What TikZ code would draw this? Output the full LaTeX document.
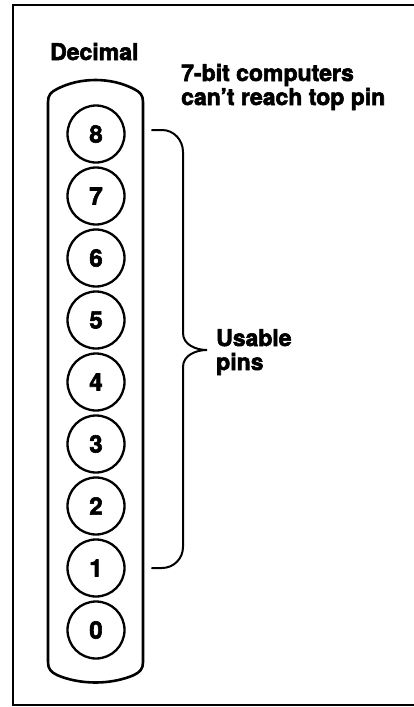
\documentclass[tikz,border=0pt]{standalone}
\usepackage{fontspec}
\setmainfont{TeX Gyre Heros}[BoldFeatures={FakeBold=2.5}]
\begin{document}
\begin{tikzpicture}[x=1pt,y=-1pt,
  lbl/.style={font=\fontsize{23}{24}\selectfont\bfseries, inner sep=0pt, align=left},
  pin/.style={circle, draw, line width=2.3pt, minimum size=57pt, inner sep=0pt,
              font=\fontsize{24}{25}\selectfont\bfseries},
  column/.style={draw, line width=2.6pt, line join=round},
  bracket/.style={draw, line width=2pt, line cap=round},
  frame/.style={draw, line width=2.4pt}]
\useasboundingbox (0,0) rectangle (414,707);
% frame (right side runs off the picture)
\draw[frame] (416,5) -- (13,5) -- (13,705) -- (416,705);
% column
\draw[column] (48,662) -- (48,102)
  .. controls (48,95) and (51,92) .. (57,89)
  .. controls (80,77) and (111,77) .. (134,89)
  .. controls (140,92) and (143,95) .. (143,102)
  -- (143,662)
  .. controls (143,669) and (140,672) .. (134,675)
  .. controls (111,685) and (80,685) .. (57,675)
  .. controls (51,672) and (48,669) .. (48,662) -- cycle;
% pins
\foreach \k in {0,...,8} {
  \node[pin] (c\k) at (96,{630-62*\k}) {\k};
}
% labels (base anchor = baseline of last line)
\node[lbl, anchor=base west] (dec) at (50,60) {Decimal};
\node[lbl, anchor=base west] (top) at (181,105) {7-bit computers\\can’t reach top pin};
\node[lbl, anchor=base west] (use) at (216,370) {Usable\\pins};
% brace
\coordinate (bt) at (152,130);
\coordinate (bb) at (152,568);
\coordinate (tip) at (207,350);
\draw[bracket] (bt) -- (162,130) to[out=0,in=90] (183,152) -- (183,333)
  to[out=-90,in=180] (tip) to[out=180,in=90] (183,367) -- (183,547)
  to[out=-90,in=0] (162,568) -- (bb);
\end{tikzpicture}
\end{document}
